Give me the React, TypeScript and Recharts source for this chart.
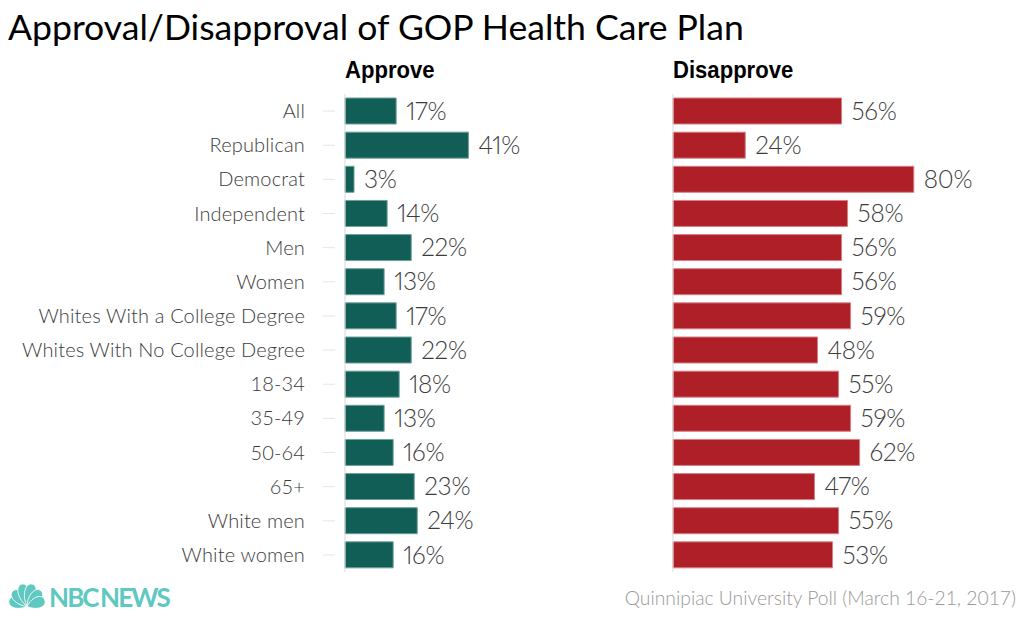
import React from 'react';
import { BarChart, Bar, XAxis, YAxis, LabelList } from 'recharts';

const categories = ['All', 'Republican', 'Democrat', 'Independent', 'Men', 'Women', 'Whites With a College Degree', 'Whites With No College Degree', '18-34', '35-49', '50-64', '65+', 'White men', 'White women'];
const approve = [17, 41, 3, 14, 22, 13, 17, 22, 18, 13, 16, 23, 24, 16];
const disapprove = [56, 24, 80, 58, 56, 56, 59, 48, 55, 59, 62, 47, 55, 53];

const approveData = categories.map((name, i) => ({ name, value: approve[i] }));
const disapproveData = categories.map((name, i) => ({ name, value: disapprove[i] }));

const FONT = 'Lato, sans-serif';
// logo feathers: angle, length
const petals = [[-70, 19], [-42, 21], [-13, 23], [13, 23], [42, 21], [70, 19]];

const CategoryTick = ({ x, y, payload }: any) => (
  <g>
    <text x={x - 32} y={y} dy={7} textAnchor="end" fontFamily={FONT} fontWeight={300} fontSize={20} letterSpacing={0.15} fill="#3c3c3c">
      {payload.value}
    </text>
    <line x1={x - 14} x2={x - 2} y1={y} y2={y} stroke="#e6e6e6" />
  </g>
);

const Peacock = () => (
  <svg width={40} height={26} style={{ position: 'absolute', left: 7, top: 583 }}>
    {petals.map(([a, l]) => (
      <path
        key={a}
        d={`M0,0 C-8,${-l * 0.45} -7,${-l} 0,${-l} C7,${-l} 8,${-l * 0.45} 0,0 Z`}
        fill="#5fc8c0"
        stroke="#fff"
        strokeWidth={0.8}
        transform={`translate(20 23.5) rotate(${a})`}
      />
    ))}
  </svg>
);

const headerStyle: React.CSSProperties = {
  position: 'absolute',
  top: 56,
  fontFamily: '"Liberation Sans", sans-serif',
  fontWeight: 700,
  fontSize: 24,
  color: '#000',
  transform: 'scaleX(0.92)',
  transformOrigin: 'left',
};

const Panel = ({ data, fill, stroke, left, hideNames }: any) => (
  <div style={{ position: 'absolute', left, top: 0 }}>
    <BarChart
      width={hideNames ? 342 : 686}
      height={625}
      data={data}
      layout="vertical"
      barCategoryGap={4}
      margin={{ top: 94, right: 40, bottom: 53, left: 0 }}
    >
      <XAxis type="number" domain={[0, 100]} hide />
      <YAxis
        type="category"
        dataKey="name"
        width={hideNames ? 1 : 345}
        interval={0}
        axisLine={{ stroke: '#d9d9d9' }}
        tickLine={false}
        tick={hideNames ? false : CategoryTick}
      />
      <Bar dataKey="value" fill={fill} stroke={stroke} isAnimationActive={false}>
        <LabelList
          dataKey="value"
          position="right"
          offset={10}
          formatter={(v: any) => `${v}%`}
          style={{ fontFamily: FONT, fontWeight: 300, fontSize: 24.5, letterSpacing: -0.3, fontVariantNumeric: 'proportional-nums', fill: '#3c3c3c' }}
        />
      </Bar>
    </BarChart>
  </div>
);

export default function App() {
  return (
    <div style={{ position: 'absolute', left: 0, top: 0, width: 1024, height: 625, background: '#fff', overflow: 'hidden' }}>
      <div style={{ position: 'absolute', left: 8, top: 5, fontFamily: FONT, fontSize: 35.6, color: '#000', whiteSpace: 'nowrap' }}>
        Approval/Disapproval of GOP Health Care Plan
      </div>
      <div style={{ ...headerStyle, left: 345 }}>Approve</div>
      <div style={{ ...headerStyle, left: 673 }}>Disapprove</div>
      <Panel data={approveData} fill="#115e56" stroke="#6f9f9a" left={0} />
      <Panel data={disapproveData} fill="#ae1f28" stroke="#d77f85" left={672} hideNames />
      <Peacock />
      <div style={{ position: 'absolute', left: 49, top: 581, fontFamily: FONT, fontWeight: 700, fontSize: 26, letterSpacing: -1.9, wordSpacing: -2, color: '#5fc8c0', whiteSpace: 'nowrap' }}>NBC NEWS</div>
      <div style={{ position: 'absolute', right: 8, top: 586, fontFamily: FONT, fontWeight: 300, fontSize: 19.3, color: '#999', whiteSpace: 'nowrap' }}>
        Quinnipiac University Poll (March 16-21, 2017)
      </div>
    </div>
  );
}
